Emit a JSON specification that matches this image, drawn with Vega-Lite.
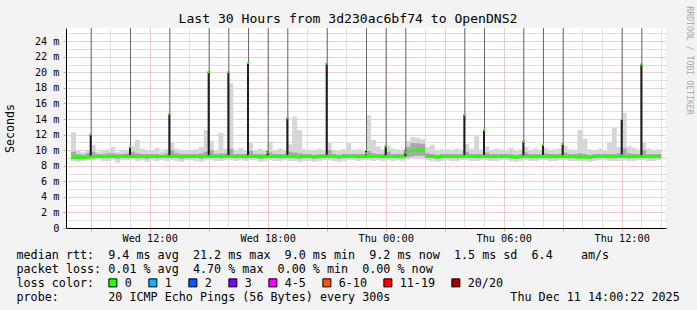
{
"$schema": "https://vega.github.io/schema/vega-lite/v6.json",
"width": 600,
"height": 200,
"autosize": {"type": "none"},
"padding": {"left": 66, "top": 28, "right": 31, "bottom": 82},
"background": "#f3f3f3",
"config": {
  "font": "DejaVu Sans Mono",
  "view": {"fill": "#ffffff", "stroke": null},
  "axis": {"labelFont": "DejaVu Sans Mono", "titleFont": "DejaVu Sans Mono", "titleFontWeight": "normal", "labelColor": "#000000", "titleColor": "#000000"}
},
"title": {"text": "Last 30 Hours from 3d230ac6bf74 to OpenDNS2", "font": "DejaVu Sans Mono", "fontSize": 13.1, "fontWeight": "normal", "color": "#000000", "anchor": "middle", "frame": "group", "dx": -18, "dy": 33, "offset": 3, "baseline": "alphabetic"},
"datasets": {
"smoke": [
{"t":0.125,"lo":8.6,"hi":12.3,"dlo":9.0,"dhi":9.8,"med":9.05,"loss":"0"},
{"t":0.375,"lo":8.5,"hi":9.9,"dlo":8.9,"dhi":9.5,"med":9.0,"loss":"0"},
{"t":0.625,"lo":8.6,"hi":9.7,"dlo":8.9,"dhi":9.4,"med":9.05,"loss":"0"},
{"t":0.875,"lo":8.7,"hi":10.0,"dlo":9.0,"dhi":9.6,"med":9.1,"loss":"0"},
{"t":1.125,"lo":8.7,"hi":10.7,"dlo":9.0,"dhi":9.8,"med":9.15,"loss":"0"},
{"t":1.375,"lo":8.8,"hi":9.8,"dlo":9.0,"dhi":9.5,"med":9.2,"loss":"0"},
{"t":1.625,"lo":8.6,"hi":9.9,"dlo":9.0,"dhi":9.5,"med":9.15,"loss":"0"},
{"t":1.875,"lo":8.6,"hi":10.1,"dlo":9.0,"dhi":9.6,"med":9.15,"loss":"0"},
{"t":2.125,"lo":8.7,"hi":10.4,"dlo":9.0,"dhi":9.6,"med":9.2,"loss":"0"},
{"t":2.375,"lo":8.4,"hi":9.8,"dlo":8.9,"dhi":9.5,"med":9.15,"loss":"0"},
{"t":2.625,"lo":8.7,"hi":10.0,"dlo":9.0,"dhi":9.5,"med":9.2,"loss":"0"},
{"t":2.875,"lo":8.7,"hi":9.9,"dlo":9.0,"dhi":9.6,"med":9.2,"loss":"0"},
{"t":3.125,"lo":8.8,"hi":10.5,"dlo":9.0,"dhi":9.8,"med":9.2,"loss":"0"},
{"t":3.375,"lo":8.6,"hi":11.3,"dlo":9.0,"dhi":9.6,"med":9.15,"loss":"0"},
{"t":3.625,"lo":8.7,"hi":10.2,"dlo":9.0,"dhi":9.5,"med":9.2,"loss":"0"},
{"t":3.875,"lo":8.5,"hi":9.9,"dlo":8.9,"dhi":9.5,"med":9.2,"loss":"0"},
{"t":4.125,"lo":8.7,"hi":10.0,"dlo":9.0,"dhi":9.5,"med":9.2,"loss":"0"},
{"t":4.375,"lo":8.6,"hi":10.3,"dlo":9.0,"dhi":9.5,"med":9.15,"loss":"0"},
{"t":4.625,"lo":8.7,"hi":9.8,"dlo":9.0,"dhi":9.4,"med":9.2,"loss":"0"},
{"t":4.875,"lo":8.6,"hi":10.1,"dlo":9.0,"dhi":9.6,"med":9.2,"loss":"0"},
{"t":5.125,"lo":8.7,"hi":11.0,"dlo":9.0,"dhi":10.0,"med":9.2,"loss":"0"},
{"t":5.375,"lo":8.6,"hi":10.2,"dlo":9.0,"dhi":9.6,"med":9.2,"loss":"0"},
{"t":5.625,"lo":8.5,"hi":9.9,"dlo":8.9,"dhi":9.5,"med":9.15,"loss":"0"},
{"t":5.875,"lo":8.7,"hi":10.0,"dlo":9.0,"dhi":9.5,"med":9.2,"loss":"0"},
{"t":6.125,"lo":8.7,"hi":9.9,"dlo":9.0,"dhi":9.5,"med":9.2,"loss":"0"},
{"t":6.375,"lo":8.6,"hi":10.1,"dlo":9.0,"dhi":9.5,"med":9.2,"loss":"0"},
{"t":6.625,"lo":8.5,"hi":10.4,"dlo":8.9,"dhi":9.6,"med":9.15,"loss":"0"},
{"t":6.875,"lo":8.7,"hi":12.6,"dlo":9.0,"dhi":9.8,"med":9.2,"loss":"0"},
{"t":7.125,"lo":8.7,"hi":11.2,"dlo":9.0,"dhi":10.0,"med":9.2,"loss":"0"},
{"t":7.375,"lo":8.6,"hi":9.9,"dlo":9.0,"dhi":9.5,"med":9.2,"loss":"0"},
{"t":7.625,"lo":8.6,"hi":12.2,"dlo":9.0,"dhi":9.6,"med":9.15,"loss":"0"},
{"t":7.875,"lo":8.7,"hi":10.2,"dlo":9.0,"dhi":9.6,"med":9.2,"loss":"0"},
{"t":8.125,"lo":8.7,"hi":18.6,"dlo":9.0,"dhi":10.2,"med":9.2,"loss":"0"},
{"t":8.375,"lo":8.6,"hi":10.0,"dlo":9.0,"dhi":9.5,"med":9.15,"loss":"0"},
{"t":8.625,"lo":8.7,"hi":10.3,"dlo":9.0,"dhi":9.5,"med":9.2,"loss":"0"},
{"t":8.875,"lo":8.6,"hi":10.0,"dlo":9.0,"dhi":9.5,"med":9.15,"loss":"0"},
{"t":9.125,"lo":8.7,"hi":11.0,"dlo":9.0,"dhi":9.9,"med":9.2,"loss":"0"},
{"t":9.375,"lo":8.7,"hi":9.9,"dlo":9.0,"dhi":9.5,"med":9.2,"loss":"0"},
{"t":9.625,"lo":8.5,"hi":10.2,"dlo":8.9,"dhi":9.5,"med":9.15,"loss":"0"},
{"t":9.875,"lo":8.6,"hi":10.0,"dlo":9.0,"dhi":9.5,"med":9.15,"loss":"0"},
{"t":10.125,"lo":8.7,"hi":11.1,"dlo":9.0,"dhi":9.7,"med":9.2,"loss":"0"},
{"t":10.375,"lo":8.6,"hi":10.0,"dlo":9.0,"dhi":9.5,"med":9.2,"loss":"0"},
{"t":10.625,"lo":8.6,"hi":10.2,"dlo":9.0,"dhi":9.5,"med":9.15,"loss":"0"},
{"t":10.875,"lo":8.7,"hi":10.0,"dlo":9.0,"dhi":9.5,"med":9.2,"loss":"0"},
{"t":11.125,"lo":8.6,"hi":10.8,"dlo":9.0,"dhi":9.8,"med":9.2,"loss":"0"},
{"t":11.375,"lo":8.6,"hi":14.3,"dlo":9.0,"dhi":9.7,"med":9.15,"loss":"0"},
{"t":11.625,"lo":8.5,"hi":12.6,"dlo":8.9,"dhi":9.6,"med":9.15,"loss":"0"},
{"t":11.875,"lo":8.6,"hi":10.1,"dlo":9.0,"dhi":9.5,"med":9.2,"loss":"0"},
{"t":12.125,"lo":8.6,"hi":10.0,"dlo":9.0,"dhi":9.5,"med":9.2,"loss":"0"},
{"t":12.375,"lo":8.5,"hi":9.9,"dlo":8.9,"dhi":9.4,"med":9.15,"loss":"0"},
{"t":12.625,"lo":8.6,"hi":10.2,"dlo":9.0,"dhi":9.5,"med":9.15,"loss":"0"},
{"t":12.875,"lo":8.7,"hi":10.0,"dlo":9.0,"dhi":9.5,"med":9.2,"loss":"0"},
{"t":13.125,"lo":8.7,"hi":11.0,"dlo":9.0,"dhi":10.0,"med":9.25,"loss":"0"},
{"t":13.375,"lo":8.6,"hi":10.0,"dlo":9.0,"dhi":9.5,"med":9.2,"loss":"0"},
{"t":13.625,"lo":8.5,"hi":9.9,"dlo":8.9,"dhi":9.4,"med":9.15,"loss":"0"},
{"t":13.875,"lo":8.6,"hi":10.1,"dlo":9.0,"dhi":9.5,"med":9.2,"loss":"0"},
{"t":14.125,"lo":8.7,"hi":10.9,"dlo":9.0,"dhi":9.5,"med":9.2,"loss":"0"},
{"t":14.375,"lo":8.7,"hi":10.0,"dlo":9.0,"dhi":9.5,"med":9.2,"loss":"0"},
{"t":14.625,"lo":8.6,"hi":10.1,"dlo":9.0,"dhi":9.5,"med":9.15,"loss":"0"},
{"t":14.875,"lo":8.7,"hi":9.9,"dlo":9.0,"dhi":9.5,"med":9.2,"loss":"0"},
{"t":15.125,"lo":8.7,"hi":14.5,"dlo":9.0,"dhi":9.9,"med":9.25,"loss":"0"},
{"t":15.375,"lo":8.6,"hi":11.3,"dlo":9.0,"dhi":9.6,"med":9.2,"loss":"0"},
{"t":15.625,"lo":8.7,"hi":10.5,"dlo":9.0,"dhi":9.5,"med":9.2,"loss":"0"},
{"t":15.875,"lo":8.6,"hi":10.1,"dlo":9.0,"dhi":9.5,"med":9.15,"loss":"0"},
{"t":16.125,"lo":8.7,"hi":10.6,"dlo":9.0,"dhi":9.8,"med":9.2,"loss":"0"},
{"t":16.375,"lo":8.6,"hi":10.2,"dlo":9.0,"dhi":9.5,"med":9.2,"loss":"0"},
{"t":16.625,"lo":8.7,"hi":10.1,"dlo":9.0,"dhi":9.5,"med":9.15,"loss":"0"},
{"t":16.875,"lo":8.6,"hi":10.0,"dlo":9.0,"dhi":9.5,"med":9.15,"loss":"0"},
{"t":17.125,"lo":8.8,"hi":11.2,"dlo":9.1,"dhi":10.4,"med":9.7,"loss":"0"},
{"t":17.375,"lo":8.9,"hi":11.7,"dlo":9.2,"dhi":10.9,"med":9.95,"loss":"0"},
{"t":17.625,"lo":9.0,"hi":11.6,"dlo":9.3,"dhi":10.9,"med":10.0,"loss":"0"},
{"t":17.875,"lo":8.9,"hi":11.4,"dlo":9.3,"dhi":10.8,"med":9.95,"loss":"0"},
{"t":18.125,"lo":8.7,"hi":10.4,"dlo":9.0,"dhi":9.6,"med":9.2,"loss":"0"},
{"t":18.375,"lo":8.6,"hi":10.7,"dlo":9.0,"dhi":9.5,"med":9.2,"loss":"0"},
{"t":18.625,"lo":8.5,"hi":10.0,"dlo":8.9,"dhi":9.4,"med":9.1,"loss":"0"},
{"t":18.875,"lo":8.6,"hi":10.1,"dlo":9.0,"dhi":9.5,"med":9.15,"loss":"0"},
{"t":19.125,"lo":8.7,"hi":10.1,"dlo":9.0,"dhi":9.5,"med":9.2,"loss":"0"},
{"t":19.375,"lo":8.6,"hi":10.0,"dlo":9.0,"dhi":9.5,"med":9.2,"loss":"0"},
{"t":19.625,"lo":8.6,"hi":10.2,"dlo":9.0,"dhi":9.5,"med":9.15,"loss":"0"},
{"t":19.875,"lo":8.7,"hi":10.0,"dlo":9.0,"dhi":9.5,"med":9.2,"loss":"0"},
{"t":20.125,"lo":8.7,"hi":10.8,"dlo":9.0,"dhi":9.8,"med":9.2,"loss":"0"},
{"t":20.375,"lo":8.6,"hi":10.2,"dlo":9.0,"dhi":9.5,"med":9.2,"loss":"0"},
{"t":20.625,"lo":8.6,"hi":11.8,"dlo":9.0,"dhi":9.5,"med":9.15,"loss":"0"},
{"t":20.875,"lo":8.7,"hi":10.1,"dlo":9.0,"dhi":9.5,"med":9.2,"loss":"0"},
{"t":21.125,"lo":8.7,"hi":10.5,"dlo":9.0,"dhi":9.7,"med":9.2,"loss":"0"},
{"t":21.375,"lo":8.6,"hi":10.0,"dlo":9.0,"dhi":9.5,"med":9.15,"loss":"0"},
{"t":21.625,"lo":8.6,"hi":10.2,"dlo":9.0,"dhi":9.5,"med":9.15,"loss":"0"},
{"t":21.875,"lo":8.7,"hi":10.1,"dlo":9.0,"dhi":9.5,"med":9.2,"loss":"0"},
{"t":22.125,"lo":8.7,"hi":10.0,"dlo":9.0,"dhi":9.5,"med":9.2,"loss":"0"},
{"t":22.375,"lo":8.6,"hi":10.3,"dlo":9.0,"dhi":9.5,"med":9.15,"loss":"0"},
{"t":22.625,"lo":8.5,"hi":9.9,"dlo":8.9,"dhi":9.4,"med":9.1,"loss":"0"},
{"t":22.875,"lo":8.6,"hi":10.1,"dlo":9.0,"dhi":9.5,"med":9.15,"loss":"0"},
{"t":23.125,"lo":8.7,"hi":10.4,"dlo":9.0,"dhi":9.7,"med":9.2,"loss":"0"},
{"t":23.375,"lo":8.6,"hi":10.0,"dlo":9.0,"dhi":9.5,"med":9.15,"loss":"0"},
{"t":23.625,"lo":8.6,"hi":10.2,"dlo":9.0,"dhi":9.5,"med":9.15,"loss":"0"},
{"t":23.875,"lo":8.7,"hi":10.0,"dlo":9.0,"dhi":9.5,"med":9.2,"loss":"0"},
{"t":24.125,"lo":8.7,"hi":10.3,"dlo":9.0,"dhi":9.6,"med":9.2,"loss":"0"},
{"t":24.375,"lo":8.6,"hi":10.0,"dlo":9.0,"dhi":9.5,"med":9.15,"loss":"0"},
{"t":24.625,"lo":8.6,"hi":10.1,"dlo":9.0,"dhi":9.5,"med":9.15,"loss":"0"},
{"t":24.875,"lo":8.7,"hi":10.2,"dlo":9.0,"dhi":9.5,"med":9.2,"loss":"0"},
{"t":25.125,"lo":8.7,"hi":10.6,"dlo":9.0,"dhi":9.7,"med":9.2,"loss":"0"},
{"t":25.375,"lo":8.6,"hi":10.1,"dlo":9.0,"dhi":9.5,"med":9.15,"loss":"0"},
{"t":25.625,"lo":8.6,"hi":10.0,"dlo":9.0,"dhi":9.5,"med":9.15,"loss":"0"},
{"t":25.875,"lo":8.6,"hi":12.6,"dlo":9.0,"dhi":9.6,"med":9.1,"loss":"0"},
{"t":26.125,"lo":8.6,"hi":11.5,"dlo":9.0,"dhi":9.5,"med":9.1,"loss":"0"},
{"t":26.375,"lo":8.5,"hi":10.1,"dlo":8.9,"dhi":9.4,"med":9.1,"loss":"0"},
{"t":26.625,"lo":8.6,"hi":10.0,"dlo":9.0,"dhi":9.5,"med":9.15,"loss":"0"},
{"t":26.875,"lo":8.7,"hi":10.2,"dlo":9.0,"dhi":9.5,"med":9.2,"loss":"0"},
{"t":27.125,"lo":8.7,"hi":10.0,"dlo":9.0,"dhi":9.5,"med":9.2,"loss":"0"},
{"t":27.375,"lo":8.6,"hi":11.0,"dlo":9.0,"dhi":9.5,"med":9.15,"loss":"0"},
{"t":27.625,"lo":8.6,"hi":12.9,"dlo":9.0,"dhi":9.5,"med":9.15,"loss":"0"},
{"t":27.875,"lo":8.6,"hi":10.4,"dlo":9.0,"dhi":9.6,"med":9.2,"loss":"0"},
{"t":28.125,"lo":8.7,"hi":14.8,"dlo":9.0,"dhi":10.2,"med":9.2,"loss":"0"},
{"t":28.375,"lo":8.6,"hi":10.5,"dlo":9.0,"dhi":9.6,"med":9.15,"loss":"0"},
{"t":28.625,"lo":8.6,"hi":10.3,"dlo":9.0,"dhi":9.5,"med":9.15,"loss":"0"},
{"t":28.875,"lo":8.7,"hi":10.1,"dlo":9.0,"dhi":9.5,"med":9.2,"loss":"0"},
{"t":29.125,"lo":8.7,"hi":11.0,"dlo":9.0,"dhi":10.0,"med":9.2,"loss":"0"},
{"t":29.375,"lo":8.6,"hi":10.2,"dlo":9.0,"dhi":9.5,"med":9.15,"loss":"0"},
{"t":29.625,"lo":8.6,"hi":10.0,"dlo":9.0,"dhi":9.5,"med":9.15,"loss":"0"},
{"t":29.875,"lo":8.7,"hi":10.1,"dlo":9.0,"dhi":9.5,"med":9.2,"loss":"0"}
],
"spikes": [
{"h":1,"lo":9.2,"top":26,"dark":12.1,"med":12.0,"loss":"0"},
{"h":3,"lo":9.2,"top":26,"dark":10.5,"med":10.4,"loss":"0"},
{"h":5,"lo":9.2,"top":26,"dark":14.7,"med":14.6,"loss":"0"},
{"h":7,"lo":9.2,"top":26,"dark":20.1,"med":20.0,"loss":"0"},
{"h":8,"lo":9.2,"top":26,"dark":20.1,"med":20.0,"loss":"0"},
{"h":9,"lo":9.2,"top":26,"dark":21.3,"med":21.2,"loss":"0"},
{"h":10,"lo":9.2,"top":26,"dark":9.9,"med":9.7,"loss":"0"},
{"h":11,"lo":9.2,"top":26,"dark":14.2,"med":14.1,"loss":"0"},
{"h":13,"lo":9.2,"top":26,"dark":21.2,"med":21.1,"loss":"0"},
{"h":15,"lo":9.2,"top":26,"dark":9.9,"med":9.6,"loss":"0"},
{"h":16,"lo":9.2,"top":26,"dark":10.6,"med":10.5,"loss":"0"},
{"h":17,"lo":9.2,"top":26,"dark":10.0,"med":9.8,"loss":"0"},
{"h":20,"lo":9.2,"top":26,"dark":14.6,"med":14.5,"loss":"0"},
{"h":21,"lo":9.2,"top":26,"dark":12.7,"med":12.6,"loss":"0"},
{"h":23,"lo":9.2,"top":26,"dark":11.2,"med":11.1,"loss":"0"},
{"h":24,"lo":9.2,"top":26,"dark":10.8,"med":10.7,"loss":"0"},
{"h":25,"lo":9.2,"top":26,"dark":10.9,"med":10.8,"loss":"0"},
{"h":28,"lo":9.2,"top":26,"dark":13.9,"med":9.4,"loss":"1"},
{"h":29,"lo":9.2,"top":26,"dark":21.1,"med":21.0,"loss":"0"}
]
},
"layer": [
{
  "data": {"name": "smoke"},
  "mark": {"type": "bar", "size": 5, "color": "#d6d6d6"},
  "encoding": {
    "x": {"field": "t", "type": "quantitative", "scale": {"domain": [0, 30], "nice": false, "zero": false},
      "axis": {"orient": "top", "values": [2,3,5,6,8,9,11,12,14,15,17,18,20,21,23,24,26,27,29,30], "grid": true, "gridColor": "#c4c4c4", "gridDash": [1,1], "labels": false, "ticks": false, "domain": false, "title": null}},
    "y": {"field": "lo", "type": "quantitative", "scale": {"domain": [0, 25.7], "nice": false, "zero": false},
      "axis": {"orient": "right", "values": [1,3,5,7,9,11,13,15,17,19,21,23,25], "grid": true, "gridColor": "#c4c4c4", "gridDash": [1,1], "labels": false, "ticks": false, "domain": false,
        "title": "RRDTOOL / TOBI OETIKER", "titleAngle": 90, "titleX": 22, "titleY": 32, "titleAlign": "center", "titleBaseline": "middle", "titleFontSize": 8.2, "titleColor": "#a8a8a8"}},
    "y2": {"field": "hi"}
  }
},
{
  "data": {"name": "smoke"},
  "mark": {"type": "bar", "size": 5, "color": "#a8a8a8"},
  "encoding": {
    "x": {"field": "t", "type": "quantitative",
      "axis": {"orient": "bottom", "values": [1,4,7,10,13,16,19,22,25,28], "grid": true, "gridColor": "#e49a9a", "gridDash": [1,1],
        "domainColor": "#000000", "domainWidth": 1, "ticks": true, "tickSize": 3, "tickColor": "#e49a9a",
        "labelExpr": "datum.value == 4 ? 'Wed 12:00' : datum.value == 10 ? 'Wed 18:00' : datum.value == 16 ? 'Thu 00:00' : datum.value == 22 ? 'Thu 06:00' : datum.value == 28 ? 'Thu 12:00' : ''",
        "labelFontSize": 10.2, "labelPadding": 2, "labelBaseline": "top", "labelOverlap": false, "labelFlush": false,
        "title": ["median rtt:\u00a0\u00a09.4 ms avg\u00a0\u00a021.2 ms max\u00a0\u00a09.0 ms min\u00a0\u00a09.2 ms now\u00a0\u00a01.5 ms sd\u00a0\u00a06.4\u00a0\u00a0\u00a0\u00a0am/s",
                  "packet loss: 0.01 % avg\u00a0\u00a04.70 % max\u00a0\u00a00.00 % min\u00a0\u00a00.00 % now",
                  "loss color:",
                  "probe:\u00a0\u00a0\u00a0\u00a0\u00a0\u00a0\u00a020 ICMP Echo Pings (56 Bytes) every 300s\u00a0\u00a0\u00a0\u00a0\u00a0\u00a0\u00a0\u00a0\u00a0\u00a0\u00a0\u00a0\u00a0\u00a0\u00a0\u00a0\u00a0Thu Dec 11 14:00:22 2025"],
        "titleX": -50, "titleY": 30.3, "titleAlign": "left", "titleAnchor": "start", "titleBaseline": "alphabetic", "titleLineHeight": 14, "titleFontSize": 11.72}},
    "y": {"field": "dlo", "type": "quantitative",
      "axis": {"orient": "left", "values": [0,2,4,6,8,10,12,14,16,18,20,22,24], "grid": true, "gridColor": "#e49a9a", "gridDash": [1,1],
        "domainColor": "#000000", "domainWidth": 1, "ticks": true, "tickSize": 3, "tickColor": "#e49a9a",
        "labelExpr": "datum.value == 0 ? '0\u00a0\u00a0' : datum.value + ' m'", "labelFontSize": 10.2, "labelPadding": 4, "labelOverlap": false, "labelFlush": false,
        "title": "Seconds", "titleX": -56, "titleY": 100, "titleAngle": -90, "titleAlign": "center", "titleBaseline": "middle", "titleFontSize": 11.63}},
    "y2": {"field": "dhi"}
  }
},
{
  "data": {"name": "spikes"},
  "mark": {"type": "rule", "color": "#4a4a4a", "strokeWidth": 1, "xOffset": 0.5, "clip": true, "opacity": 0.8},
  "encoding": {
    "x": {"field": "h", "type": "quantitative", "axis": null},
    "y": {"field": "lo", "type": "quantitative", "axis": null},
    "y2": {"field": "top"}
  }
},
{
  "data": {"name": "spikes"},
  "mark": {"type": "bar", "size": 2, "color": "#1e1e1e"},
  "encoding": {
    "x": {"field": "h", "type": "quantitative", "axis": null},
    "y": {"field": "lo", "type": "quantitative", "axis": null},
    "y2": {"field": "dark"}
  }
},
{
  "data": {"name": "smoke"},
  "mark": {"type": "tick", "orient": "horizontal", "size": 5, "thickness": 3, "opacity": 1},
  "encoding": {
    "x": {"field": "t", "type": "quantitative", "axis": null},
    "y": {"field": "med", "type": "quantitative", "axis": null},
    "color": {"field": "loss", "type": "nominal",
      "scale": {"domain": ["0","1","2","3","4-5","6-10","11-19","20/20"], "range": ["#26ff00","#00b8ff","#0059ff","#7e00ff","#ff00ff","#ff5500","#ff0000","#a10000"]},
      "legend": {"orient": "none", "legendX": 41, "legendY": 249, "direction": "horizontal", "title": null, "symbolType": "square", "symbolSize": 64,
        "symbolStrokeColor": "#000000", "symbolStrokeWidth": 1, "symbolOpacity": 1, "labelFont": "DejaVu Sans Mono", "labelFontSize": 11.72, "labelColor": "#000000",
        "labelOffset": 6, "columnPadding": 14, "gridAlign": "none", "padding": 0}}
  }
},
{
  "data": {"name": "spikes"},
  "mark": {"type": "tick", "orient": "horizontal", "size": 2, "thickness": 2, "opacity": 1},
  "encoding": {
    "x": {"field": "h", "type": "quantitative", "axis": null},
    "y": {"field": "med", "type": "quantitative", "axis": null},
    "color": {"field": "loss", "type": "nominal"}
  }
}
],
"resolve": {"axis": {"x": "independent", "y": "independent"}}
}
